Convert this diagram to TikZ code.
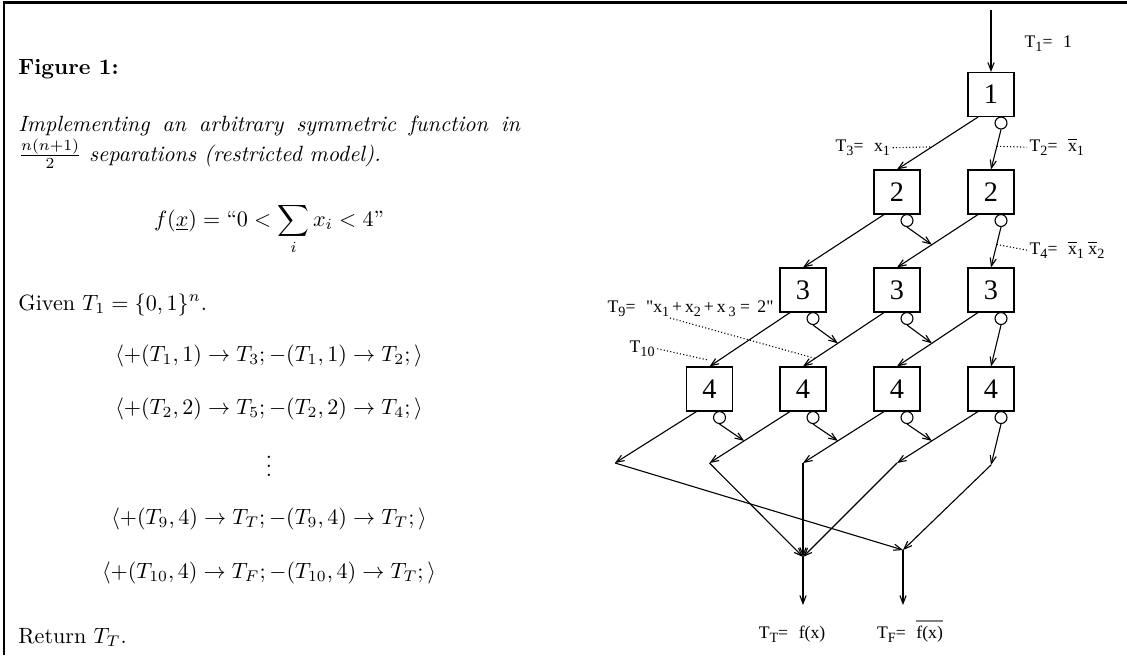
\documentclass[tikz,border=0pt]{standalone}
\usepackage{fontspec}
\newfontfamily\figfont{Liberation Serif}
\usetikzlibrary{calc,arrows.meta}
\newcommand\lblfont{\figfont\fontsize{8}{9.6}\selectfont}
\newcommand\boxfont{\figfont\fontsize{12.8}{14}\selectfont}
\newcommand\sbs[1]{\raisebox{-2.2pt}{\fontsize{6.4}{6.4}\selectfont #1}}
\newcommand\ovx{$\overline{\mbox{x}}$}
\newcommand\grayover[1]{\setbox0\hbox{#1}\rlap{\textcolor{gray}{\rule[\dimexpr\ht0+1.8pt\relax]{\wd0}{0.5pt}}}\box0}
\newcommand\eqsp{=\hspace{0.6em}}
\begin{document}
\begin{tikzpicture}[x=0.4525pt,y=-0.4525pt,
  fbox/.style={draw,line width=0.5pt,minimum width=20.8pt,minimum height=19.9pt,inner sep=0pt,font=\boxfont},
  negc/.style={draw,circle,line width=0.5pt,minimum size=5.4pt,inner sep=0pt},
  conn/.style={line width=0.5pt,-{Straight Barb[length=3.6pt,width=2.8pt]}},
  dotl/.style={line width=0.5pt,dash pattern=on 0.5pt off 1pt},
  lbl/.style={font=\lblfont,inner sep=1pt},
  txt/.style={inner sep=0pt}]
\useasboundingbox (0,0) rectangle (1127,655);
\draw[line width=1.2pt] (4,655) -- (4,2.8) -- (1127,2.8);

% ---------- left text ----------
\node[txt,anchor=base west] (fig) at (18,74) {\textbf{Figure 1:}};
\node[txt,anchor=base west] (imp) at (18,131.5) {\makebox[227pt][s]{\itshape Implementing an arbitrary symmetric function in}};
\node[txt,anchor=base west] (sep) at (18,161) {$\frac{n(n+1)}{2}$ \textit{separations (restricted model).}};
\node[txt,anchor=base] (feq) at (269,226) {$\displaystyle f(\underline{x}) = \mbox{``}0<\sum_i x_i<4\mbox{''}$};
\node[txt,anchor=base west] (giv) at (18,310) {Given $T_1=\{0,1\}^n$.};
\node[txt,anchor=base] (m1) at (269,361) {$\langle +(T_1,1)\rightarrow T_3; -(T_1,1)\rightarrow T_2;\rangle$};
\node[txt,anchor=base] (m2) at (269,414) {$\langle +(T_2,2)\rightarrow T_5; -(T_2,2)\rightarrow T_4;\rangle$};
\node[txt] (vd) at (269,459.5) {$\vdots$};
\node[txt,anchor=base] (m3) at (269,524) {$\langle +(T_9,4)\rightarrow T_T; -(T_9,4)\rightarrow T_T;\rangle$};
\node[txt,anchor=base] (m4) at (269,578) {$\langle +(T_{10},4)\rightarrow T_F; -(T_{10},4)\rightarrow T_T;\rangle$};
\node[txt,anchor=base west] (ret) at (18,643) {Return $T_T$.};

% ---------- boxes ----------
\node[fbox] (b15) at (991,94.5) {1};
\node[fbox] (b24) at (897,192) {2};
\node[fbox] (b25) at (991,192) {2};
\node[fbox] (b33) at (803,290) {3};
\node[fbox] (b34) at (897,290) {3};
\node[fbox] (b35) at (991,290) {3};
\node[fbox] (b42) at (709.5,389) {4};
\node[fbox] (b43) at (803,389) {4};
\node[fbox] (b44) at (897,389) {4};
\node[fbox] (b45) at (991,389) {4};

\foreach \b in {15,24,25,33,34,35,42,43,44,45}{
  \node[negc] (c\b) at ($(b\b.south)+(10,6)$) {};
  \coordinate (p\b) at ($(b\b.south)+(-13,0)$);
}

\coordinate (top) at (991,10);
\coordinate (j1) at (615,463);
\coordinate (j2) at (709.5,463);
\coordinate (j3) at (803,463);
\coordinate (j4) at (897,463);
\coordinate (j5) at (991,465);
\coordinate (tt) at (803,557);
\coordinate (tf) at (903,550);
\coordinate (tte) at (803,605);
\coordinate (tfe) at (903,605);

% ---------- connectors ----------
\draw[conn] (top) -- (b15.north);
\draw[conn] (p15) -- (b24.north);
\draw[conn] (c15.south) -- (b25.north);

\draw[conn] (p24) -- (b33.north);
\draw[conn] (p25) -- (b34.north);
\draw[conn] (c24.south) -- ($(p25)!0.57!(b34.north)$);
\draw[conn] (c25.south) -- (b35.north);

\draw[conn] (p33) -- (b42.north);
\draw[conn] (p34) -- (b43.north);
\draw[conn] (p35) -- (b44.north);
\draw[conn] (c33.south) -- ($(p34)!0.57!(b43.north)$);
\draw[conn] (c34.south) -- ($(p35)!0.57!(b44.north)$);
\draw[conn] (c35.south) -- (b45.north);

\draw[conn] (p42) -- (j1);
\draw[conn] (p43) -- (j2);
\draw[conn] (p44) -- (j3);
\draw[conn] (p45) -- (j4);
\draw[conn] (c42.south) -- ($(p43)!0.57!(j2)$);
\draw[conn] (c43.south) -- ($(p44)!0.57!(j3)$);
\draw[conn] (c44.south) -- ($(p45)!0.57!(j4)$);
\draw[conn] (c45.south) -- (j5);

\draw[conn] (j1) -- (tf);
\draw[conn] (j5) -- (tf);
\draw[conn] (j2) -- (tt);
\draw[conn] (j3) -- (tt);
\draw[conn] (j4) -- (tt);
\draw[conn] (tt) -- (tte);
\draw[conn] (tf) -- (tfe);

% ---------- labels ----------
\node[lbl,anchor=base west] (t1lab) at (1022,47) {T\sbs{1}\eqsp 1};
\node[lbl,anchor=base west] (t3lab) at (833,151) {T\sbs{3}\eqsp x\sbs{1}};
\node[lbl,anchor=base west] (t2lab) at (1027,151) {T\sbs{2}\eqsp\ovx\sbs{1}};
\node[lbl,anchor=base west] (t4lab) at (1027,254) {T\sbs{4}\eqsp\ovx\sbs{1} \ovx\sbs{2}};
\node[lbl,anchor=base west] (t9lab) at (605,312) {T\sbs{9}\eqsp"x\sbs{1}\,+\,x\sbs{2}\,+\,x\,\sbs{3} = \,2"};
\node[lbl,anchor=base west] (t10lab) at (627,352) {T\sbs{10}};
\node[lbl,anchor=base] (ttlab) at (792,638) {T\sbs{T}\eqsp f(x)};
\node[lbl,anchor=base] (tflab) at (910,638) {T\sbs{F}\eqsp\grayover{f(x)}};

\coordinate (e3) at ($(p15)!0.57!(b24.north)$);
\coordinate (e2) at ($(c15.south)!0.42!(b25.north)$);
\coordinate (e4) at ($(c25.south)!0.43!(b35.north)$);
\coordinate (e9) at ($(p34)!0.85!(b43.north)$);
\coordinate (t9s) at (670,318);
\coordinate (e10) at (708,360);

\draw[dotl] (t3lab.east) -- (e3);
\draw[dotl] (e2) -- (t2lab.west);
\draw[dotl] (e4) -- (t4lab.west);
\draw[dotl] (t9s) -- (e9);
\draw[dotl] (t10lab.east) -- (e10);
\end{tikzpicture}
\end{document}
